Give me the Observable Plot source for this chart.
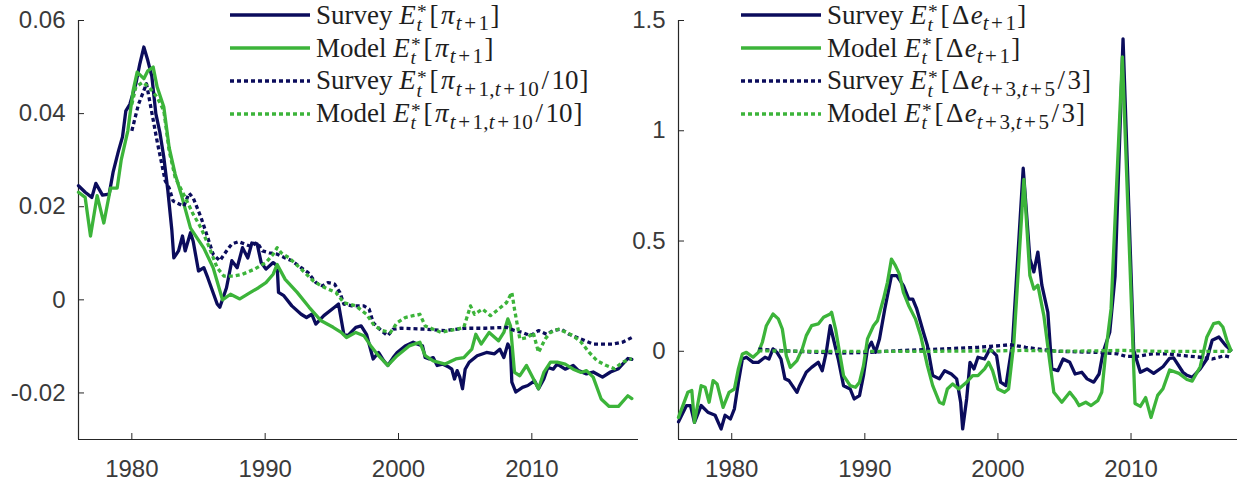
<!DOCTYPE html>
<html>
<head>
<meta charset="utf-8">
<script src="https://cdn.jsdelivr.net/npm/d3@7"></script>
<script src="https://cdn.jsdelivr.net/npm/@observablehq/plot@0.6"></script>
<style>
  body { margin: 0; background: #fff; }
  #wrap { position: relative; width: 1243px; height: 484px; overflow: hidden; background: #fff; }
  .layer { position: absolute; left: 0; top: 0; }
  .leg { position: absolute; font-family: "Liberation Serif", "Times New Roman", serif; font-size: 27px; color: #1e1e1e; }
  .row { height: 32.8px; display: flex; align-items: center; white-space: nowrap; }
  .row svg { margin-right: 6px; flex: none; }
  .row > span { line-height: 1; }
  .ss { display: inline-block; position: relative; width: 0.44em; height: 0.1em; margin-left: 0.03em; }
  .ss .s1 { position: absolute; left: 0.02em; bottom: 0.12em; font-size: 0.72em; line-height: 1; }
  .ss .s2 { position: absolute; left: 0; top: -0.32em; font-size: 0.72em; line-height: 1; }
  .sb { font-size: 0.78em; line-height: 0; vertical-align: -0.3em; letter-spacing: 0.01em; }
  .op { margin: 0 0.11em; }
  .gr { margin: 0 0.05em; }
  .br { margin: 0 0.04em; }
  .sl { margin: 0 0.09em; }
</style>
</head>
<body>
<div id="wrap">
  <div id="p1" class="layer"></div>
  <div id="p2" class="layer"></div>
</div>
<script>
// ---------------- data ----------------
const xDomain = [1976, 2018];
const xTicks = [1980, 1990, 2000, 2010];
const leftYDomain = [-0.03, 0.06];
const leftYTicks = [-0.02, 0, 0.02, 0.04, 0.06];
const rightYDomain = [-0.4, 1.5];
const rightYTicks = [0, 0.5, 1, 1.5];

// Left panel: inflation expectations
const survInfShortT = [1976.0,1976.5,1977.0,1977.3,1977.8,1978.3,1978.6,1979.0,1979.3,1979.55,1979.85,1980.3,1980.6,1980.9,1981.2,1981.5,1981.8,1982.1,1982.4,1982.7,1983.0,1983.15,1983.5,1983.8,1984.0,1984.4,1984.6,1985.0,1985.4,1985.7,1986.4,1986.6,1987.1,1987.5,1987.9,1988.3,1988.7,1989.0,1989.4,1989.7,1990.06,1990.6,1990.9,1991.0,1991.4,1992.0,1992.7,1993.1,1993.5,1993.8,1994.4,1995.2,1995.5,1995.9,1996.2,1996.8,1997.2,1997.6,1998.1,1998.5,1998.9,1999.2,1999.6,1999.9,2000.5,2001.1,2001.4,2001.8,2002.0,2002.3,2002.6,2002.9,2003.3,2003.8,2004.0,2004.2,2004.4,2004.6,2004.8,2005.0,2005.3,2005.9,2006.6,2007.2,2007.6,2007.9,2008.2,2008.4,2008.5,2008.8,2009.3,2009.7,2010.2,2010.5,2010.9,2011.2,2011.6,2011.9,2012.5,2013.1,2013.5,2014.1,2014.6,2015.3,2015.9,2016.5,2017.2,2017.5];
const survInfShortV = [0.0245,0.0231,0.0220,0.0250,0.0225,0.0227,0.0275,0.0320,0.0350,0.0406,0.0420,0.0464,0.0507,0.0543,0.0514,0.0480,0.0400,0.0360,0.0306,0.0235,0.0150,0.0090,0.0105,0.0137,0.0105,0.0144,0.0126,0.0062,0.0069,0.0047,-0.0009,-0.0016,0.0026,0.0084,0.0069,0.0112,0.0090,0.0122,0.0120,0.0080,0.0066,0.0080,0.0073,0.0016,0.0009,-0.0013,-0.0031,-0.0038,-0.0031,-0.0052,-0.0034,-0.0016,-0.0009,-0.0074,-0.0077,-0.0059,-0.0056,-0.0074,-0.0127,-0.0113,-0.0131,-0.0141,-0.0124,-0.0113,-0.0099,-0.0091,-0.0095,-0.0099,-0.0124,-0.0127,-0.0124,-0.0141,-0.0138,-0.0145,-0.0149,-0.0170,-0.0152,-0.0166,-0.0191,-0.0149,-0.0134,-0.0120,-0.0113,-0.0116,-0.0106,-0.0124,-0.0095,-0.0106,-0.0177,-0.0198,-0.0188,-0.0184,-0.0174,-0.0191,-0.0170,-0.0145,-0.0149,-0.0138,-0.0149,-0.0141,-0.0152,-0.0159,-0.0155,-0.0166,-0.0155,-0.0148,-0.0126,-0.0128];

const modelInfShortT = [1976.0,1976.5,1976.9,1977.4,1977.9,1978.4,1978.9,1979.2,1979.7,1980.1,1980.4,1980.9,1981.2,1981.6,1981.9,1982.4,1982.8,1983.25,1983.7,1984.4,1985.4,1986.1,1986.8,1987.4,1988.1,1988.9,1989.5,1990.06,1990.6,1990.9,1991.5,1992.4,1993.3,1994.2,1995.1,1995.7,1996.1,1996.8,1997.4,1998.0,1998.5,1999.2,1999.9,2000.8,2001.6,2002.0,2002.6,2003.5,2004.3,2004.9,2005.5,2005.8,2006.2,2006.8,2007.5,2007.9,2008.2,2008.4,2008.7,2009.1,2009.6,2010.0,2010.5,2010.9,2011.4,2011.9,2012.5,2013.1,2013.7,2014.1,2014.6,2015.2,2015.8,2016.5,2017.2,2017.5];
const modelInfShortV = [0.0231,0.0220,0.0137,0.0224,0.0165,0.0240,0.0240,0.0300,0.0363,0.0450,0.0489,0.0475,0.0492,0.0500,0.0457,0.0414,0.0327,0.0270,0.0227,0.0154,0.0111,0.0069,0.0000,0.0012,0.0002,0.0016,0.0026,0.0037,0.0055,0.0076,0.0044,0.0016,-0.0016,-0.0045,-0.0059,-0.0070,-0.0081,-0.0070,-0.0077,-0.0102,-0.0120,-0.0141,-0.0120,-0.0099,-0.0091,-0.0120,-0.0131,-0.0138,-0.0127,-0.0124,-0.0106,-0.0074,-0.0095,-0.0070,-0.0088,-0.0070,-0.0041,-0.0056,-0.0156,-0.0163,-0.0141,-0.0163,-0.0191,-0.0156,-0.0134,-0.0134,-0.0138,-0.0149,-0.0156,-0.0152,-0.0166,-0.0213,-0.0229,-0.0229,-0.0206,-0.0212];

const survInfLongT = [1980.0,1980.5,1981.1,1981.9,1982.5,1982.8,1983.1,1983.9,1984.3,1984.6,1985.2,1985.7,1986.1,1986.6,1987.1,1987.5,1988.0,1988.9,1989.4,1989.8,1990.3,1990.9,1991.5,1992.0,1992.7,1993.2,1993.8,1994.3,1994.7,1995.2,1995.6,1995.9,1996.5,1997.4,1997.8,1998.1,1998.7,1999.2,1999.6,2000.2,2002.0,2003.5,2005.0,2006.5,2008.1,2008.7,2009.3,2009.9,2010.5,2011.1,2011.6,2012.2,2012.8,2013.4,2014.0,2014.6,2015.3,2016.1,2016.8,2017.5];
const survInfLongV = [0.0363,0.0420,0.0464,0.0340,0.0256,0.0240,0.0212,0.0201,0.0229,0.0219,0.0176,0.0133,0.0098,0.0084,0.0105,0.0120,0.0125,0.0115,0.0123,0.0105,0.0101,0.0098,0.0090,0.0084,0.0069,0.0059,0.0037,0.0030,0.0037,0.0034,0.0016,-0.0009,-0.0013,-0.0013,-0.0020,-0.0049,-0.0066,-0.0077,-0.0063,-0.0061,-0.0063,-0.0066,-0.0061,-0.0061,-0.0059,-0.0066,-0.0070,-0.0077,-0.0066,-0.0074,-0.0066,-0.0063,-0.0074,-0.0081,-0.0088,-0.0095,-0.0095,-0.0095,-0.0091,-0.0081];

const modelInfLongT = [1980.0,1980.3,1980.8,1981.3,1981.9,1982.4,1982.8,1983.25,1984.0,1984.6,1985.2,1985.7,1986.4,1986.9,1987.6,1988.3,1989.2,1990.06,1990.6,1990.9,1991.2,1991.8,1992.7,1993.6,1994.2,1994.7,1995.3,1995.9,1996.8,1997.6,1998.2,1998.8,1999.4,1999.9,2000.5,2001.1,2001.6,2002.0,2002.6,2003.2,2003.8,2004.4,2004.9,2005.4,2005.7,2006.3,2006.9,2007.5,2008.1,2008.5,2008.7,2009.1,2009.7,2010.1,2010.5,2011.0,2011.4,2012.0,2012.6,2013.1,2013.7,2014.3,2014.9,2015.5,2016.2,2016.8,2017.5];
const modelInfLongV = [0.0420,0.0457,0.0467,0.0457,0.0435,0.0406,0.0320,0.0263,0.0220,0.0184,0.0154,0.0120,0.0069,0.0051,0.0051,0.0055,0.0066,0.0080,0.0098,0.0112,0.0101,0.0090,0.0066,0.0041,0.0030,0.0023,0.0016,-0.0006,-0.0013,-0.0031,-0.0056,-0.0066,-0.0070,-0.0049,-0.0038,-0.0034,-0.0031,-0.0056,-0.0063,-0.0070,-0.0066,-0.0063,-0.0059,-0.0013,-0.0031,-0.0020,-0.0034,-0.0020,-0.0006,0.0016,-0.0020,-0.0084,-0.0081,-0.0070,-0.0113,-0.0084,-0.0070,-0.0063,-0.0070,-0.0077,-0.0091,-0.0113,-0.0131,-0.0140,-0.0148,-0.0134,-0.0126];

// Right panel: exchange-rate expectations
const survFxShortT = [1976.0,1976.6,1976.9,1977.2,1977.7,1978.2,1978.75,1979.2,1979.5,1979.9,1980.2,1980.5,1980.8,1981.1,1981.6,1982.0,1982.5,1982.8,1983.1,1983.4,1983.7,1984.0,1984.3,1984.9,1985.1,1985.6,1986.0,1986.5,1986.8,1987.1,1987.4,1987.7,1988.0,1988.4,1988.9,1989.2,1989.6,1989.9,1990.2,1990.5,1990.8,1991.1,1991.5,1992.0,1992.4,1992.9,1993.3,1993.6,1993.9,1994.4,1994.7,1995.1,1995.6,1996.0,1996.5,1996.9,1997.2,1997.35,1997.65,1997.9,1998.2,1998.5,1999.0,1999.4,1999.9,2000.2,2000.6,2001.1,2001.9,2002.4,2002.7,2003.0,2003.3,2003.75,2004.05,2004.5,2004.9,2005.4,2005.8,2006.3,2006.7,2007.2,2007.6,2007.9,2008.4,2008.8,2009.4,2010.2,2010.7,2011.2,2011.7,2012.4,2012.9,2013.2,2013.9,2014.2,2014.6,2015.2,2015.7,2016.1,2016.6,2017.1,2017.5];
const survFxShortV = [-0.32,-0.246,-0.246,-0.322,-0.246,-0.276,-0.29,-0.352,-0.29,-0.307,-0.261,-0.14,-0.035,-0.027,-0.05,-0.05,-0.027,-0.035,0.011,-0.005,-0.035,-0.125,-0.133,-0.186,-0.156,-0.095,-0.073,-0.05,-0.088,-0.005,0.116,0.041,-0.035,-0.156,-0.171,-0.216,-0.201,-0.11,0.011,0.041,-0.005,0.056,0.192,0.343,0.343,0.298,0.237,0.237,0.192,0.086,0.026,-0.11,-0.125,-0.088,-0.103,-0.125,-0.231,-0.352,-0.216,-0.05,-0.08,-0.027,-0.035,0.011,-0.02,-0.14,-0.156,0.04,0.83,0.42,0.36,0.45,0.30,0.177,-0.08,-0.088,-0.035,-0.05,-0.103,-0.095,-0.125,-0.14,-0.103,-0.005,0.086,0.34,1.417,0.005,-0.095,-0.08,-0.10,-0.07,-0.032,-0.03,-0.095,-0.109,-0.118,-0.08,-0.035,0.05,0.065,0.027,0.005];

const modelFxShortT = [1976.0,1976.7,1977.0,1977.2,1977.7,1978.0,1978.3,1978.6,1978.9,1979.35,1979.8,1980.2,1980.5,1980.8,1981.1,1981.6,1982.0,1982.3,1982.6,1983.1,1983.5,1983.8,1984.1,1984.4,1984.9,1985.3,1985.6,1986.0,1986.5,1986.9,1987.4,1987.5,1987.8,1988.1,1988.4,1988.9,1989.3,1989.6,1989.9,1990.2,1990.65,1990.95,1991.4,1991.7,1992.0,1992.3,1992.6,1992.9,1993.3,1993.8,1994.2,1994.7,1995.1,1995.6,1995.9,1996.2,1996.6,1997.05,1997.65,1998.1,1998.5,1999.0,1999.3,1999.6,2000.0,2000.5,2000.8,2001.2,2001.95,2002.4,2002.7,2003.0,2003.45,2003.9,2004.2,2004.8,2005.4,2005.8,2006.1,2006.6,2007.0,2007.5,2007.8,2008.1,2008.5,2009.35,2010.3,2010.7,2011.1,2011.5,2012.0,2012.4,2012.9,2013.6,2014.2,2014.6,2015.2,2015.7,2016.2,2016.6,2016.9,2017.2,2017.5];
const modelFxShortV = [-0.30,-0.186,-0.178,-0.322,-0.156,-0.163,-0.231,-0.133,-0.148,-0.254,-0.186,-0.171,-0.08,-0.012,-0.005,-0.027,-0.005,0.041,0.116,0.169,0.147,0.101,-0.02,-0.073,-0.042,0.011,0.071,0.116,0.124,0.154,0.169,0.177,0.101,-0.005,-0.11,-0.156,-0.163,-0.14,-0.065,0.056,0.116,0.139,0.237,0.313,0.418,0.388,0.35,0.267,0.207,0.147,0.071,-0.065,-0.156,-0.231,-0.239,-0.171,-0.148,-0.171,-0.14,-0.11,-0.11,-0.08,-0.05,-0.088,-0.171,-0.186,-0.171,0.041,0.78,0.343,0.282,0.30,0.162,-0.05,-0.186,-0.231,-0.186,-0.216,-0.246,-0.231,-0.246,-0.224,-0.186,-0.005,0.192,1.335,-0.237,-0.25,-0.21,-0.30,-0.20,-0.17,-0.085,-0.10,-0.128,-0.135,-0.07,0.065,0.125,0.131,0.11,0.05,0.005];

const survFxLongT = [1982.0,1983.7,1986.6,1988.1,1990.2,1992.6,1995.6,1998.5,2000.3,2000.9,2002.1,2003.3,2004.5,2007.5,2009.0,2009.6,2010.45,2011.6,2012.8,2014.0,2015.2,2016.1,2017.0,2017.5];
const survFxLongV = [0.010,0.003,-0.005,-0.008,-0.005,0.003,0.010,0.018,0.026,0.030,0.018,0.008,0.000,-0.005,-0.012,-0.023,-0.023,-0.012,-0.012,-0.020,-0.027,-0.035,-0.020,-0.027];

const modelFxLongT = [1982.0,1986.0,1990.0,1995.0,2000.0,2002.0,2005.0,2009.4,2012.0,2017.5];
const modelFxLongV = [0.002,0.000,0.000,0.000,0.002,0.004,0.000,0.004,0.000,0.000];

// legend labels (math markup: E*_t stacked, subscripts)
const Est = '<i>E</i><span class="ss"><span class="s1">*</span><span class="s2"><i>t</i></span></span>';
const op = '<span class="op">+</span>';
const leftLabels = [
  `Survey ${Est}<span class="br">[</span><i class="gr">π</i><span class="sb"><i>t</i>${op}1</span><span class="br">]</span>`,
  `Model ${Est}<span class="br">[</span><i class="gr">π</i><span class="sb"><i>t</i>${op}1</span><span class="br">]</span>`,
  `Survey ${Est}<span class="br">[</span><i class="gr">π</i><span class="sb"><i>t</i>${op}1,<i>t</i>${op}10</span><span class="sl">/</span>10<span class="br">]</span>`,
  `Model ${Est}<span class="br">[</span><i class="gr">π</i><span class="sb"><i>t</i>${op}1,<i>t</i>${op}10</span><span class="sl">/</span>10<span class="br">]</span>`
];
const rightLabels = [
  `Survey ${Est}<span class="br">[</span><span class="gr">Δ</span><i>e</i><span class="sb"><i>t</i>${op}1</span><span class="br">]</span>`,
  `Model ${Est}<span class="br">[</span><span class="gr">Δ</span><i>e</i><span class="sb"><i>t</i>${op}1</span><span class="br">]</span>`,
  `Survey ${Est}<span class="br">[</span><span class="gr">Δ</span><i>e</i><span class="sb"><i>t</i>${op}3,<i>t</i>${op}5</span><span class="sl">/</span>3<span class="br">]</span>`,
  `Model ${Est}<span class="br">[</span><span class="gr">Δ</span><i>e</i><span class="sb"><i>t</i>${op}3,<i>t</i>${op}5</span><span class="sl">/</span>3<span class="br">]</span>`
];

// ---------------- styles ----------------
const NAVY = "#0b0c5c";
const GREEN = "#3cb43a";
const AXIS = "#262626";
const seriesStyle = [
  {stroke: NAVY, dash: null},
  {stroke: GREEN, dash: null},
  {stroke: NAVY, dash: "4,3"},
  {stroke: GREEN, dash: "4,3"}
];

const zip = (T, V) => T.map((t, i) => ({t, v: V[i]}));
const fmt = d => (d < 0 ? "-" : "") + String(Math.abs(d));

function panel(series, yDomain, yTicks, marginLeft, marginRight) {
  return Plot.plot({
    width: 1243, height: 484,
    marginLeft, marginRight, marginTop: 20, marginBottom: 45,
    x: {domain: xDomain},
    y: {domain: yDomain},
    style: {background: "none", overflow: "visible", fontFamily: "'Liberation Sans', Arial, sans-serif", fontSize: "24px", color: AXIS},
    marks: [
      Plot.ruleX([xDomain[0]], {stroke: AXIS, strokeWidth: 1.2}),
      Plot.ruleY([yDomain[0]], {stroke: AXIS, strokeWidth: 1.2}),
      Plot.axisY({ticks: yTicks, tickSize: -6, fill: "none", stroke: AXIS, label: null, tickFormat: () => ""}),
      Plot.axisY({ticks: yTicks, tickSize: 0, tickPadding: 13, tickFormat: fmt, label: null, fill: "#3a3a3a", fontSize: 24}),
      Plot.axisX({ticks: xTicks, tickSize: -6, fill: "none", stroke: AXIS, label: null, tickFormat: () => ""}),
      Plot.axisX({ticks: xTicks, tickSize: 0, tickPadding: 20, tickFormat: d => String(d), label: null, fill: "#3a3a3a", fontSize: 24}),
      ...series.map((s, i) => Plot.line(s, {
        x: "t", y: "v",
        stroke: seriesStyle[i].stroke,
        strokeWidth: 3.3,
        strokeDasharray: seriesStyle[i].dash,
        strokeLinejoin: "round",
        strokeLinecap: seriesStyle[i].dash ? "butt" : "round"
      }))
    ]
  });
}

document.getElementById("p1").append(panel([
  zip(survInfShortT, survInfShortV),
  zip(modelInfShortT, modelInfShortV),
  zip(survInfLongT, survInfLongV),
  zip(modelInfLongT, modelInfLongV)
], leftYDomain, leftYTicks, 78, 1243 - 638));

document.getElementById("p2").append(panel([
  zip(survFxShortT, survFxShortV),
  zip(modelFxShortT, modelFxShortV),
  zip(survFxLongT, survFxLongV),
  zip(modelFxLongT, modelFxLongV)
], rightYDomain, rightYTicks, 678, 6));

// ---------------- legends ----------------
function legend(left, labels) {
  const div = document.createElement("div");
  div.className = "leg";
  div.style.left = left + "px";
  div.style.top = "-1px";
  labels.forEach((lab, i) => {
    const row = document.createElement("div");
    row.className = "row";
    const st = seriesStyle[i];
    row.innerHTML = `<svg width="80" height="8"><line x1="0" x2="80" y1="4" y2="4" stroke="${st.stroke}" stroke-width="3.4" ${st.dash ? `stroke-dasharray="${st.dash}"` : ""}/></svg><span>${lab}</span>`;
    div.append(row);
  });
  document.getElementById("wrap").append(div);
}
legend(230, leftLabels);
legend(741, rightLabels);
</script>
</body>
</html>
